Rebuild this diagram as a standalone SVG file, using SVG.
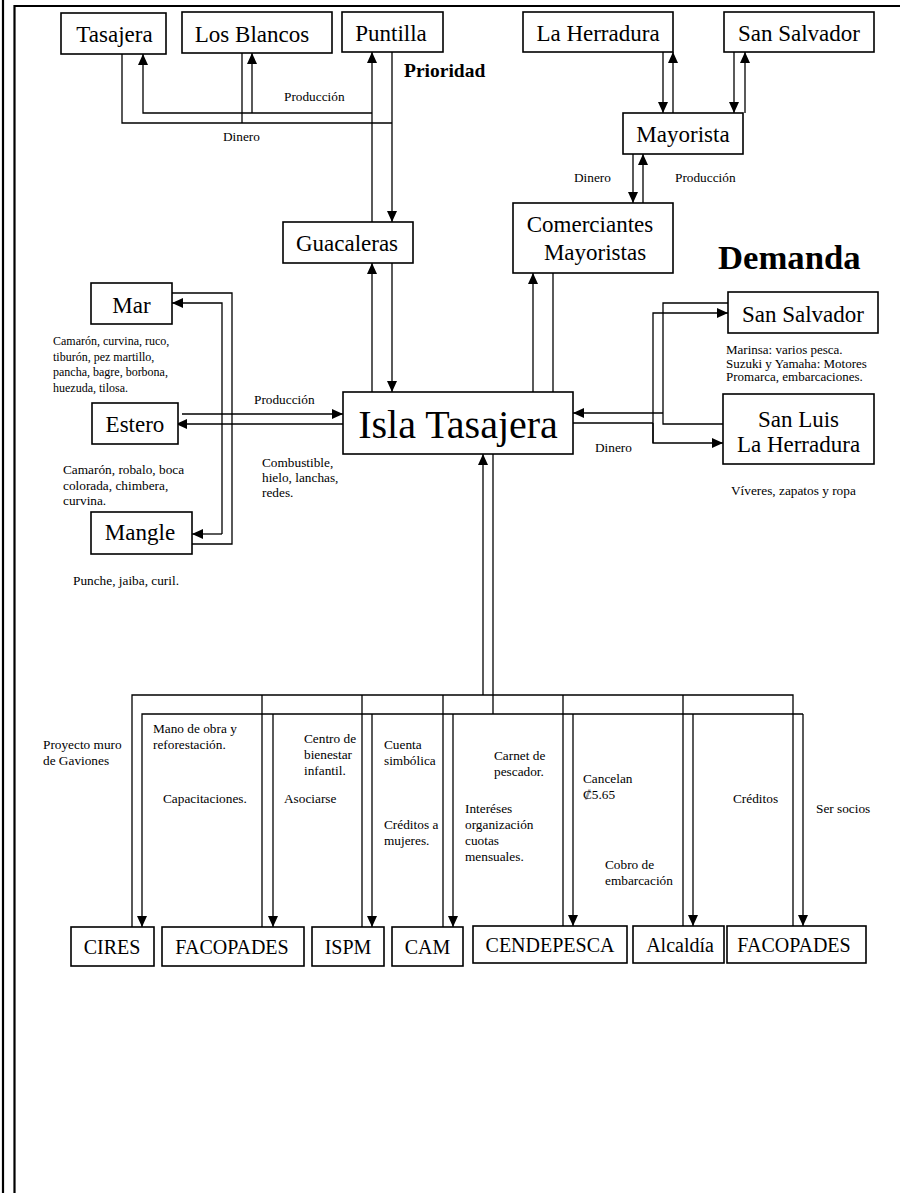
<svg xmlns="http://www.w3.org/2000/svg" width="900" height="1193" viewBox="0 0 900 1193">
<style>
.box{fill:#fff;stroke:#000;stroke-width:1.6}
.n{font-family:"Liberation Serif","Times New Roman",serif;font-size:23px;fill:#000;text-anchor:middle}
.big{font-family:"Liberation Serif","Times New Roman",serif;font-size:40px;fill:#000;text-anchor:middle}
.b{font-family:"Liberation Serif","Times New Roman",serif;font-size:20px;fill:#000;text-anchor:middle}
.s{font-family:"Liberation Serif","Times New Roman",serif;font-size:13.3px;fill:#000}
.m{font-family:"Liberation Serif","Times New Roman",serif;font-size:13px;fill:#000}
.xs{font-family:"Liberation Serif","Times New Roman",serif;font-size:12px;fill:#000}
.bold{font-family:"Liberation Serif","Times New Roman",serif;font-weight:bold;fill:#000}
.c{fill:none;stroke:#000;stroke-width:1.3}
.a{fill:none;stroke:#000;stroke-width:1.3;marker-end:url(#arr)}
.frame{fill:none;stroke:#000;stroke-width:2.2}
</style>
<defs>
<marker id="arr" markerUnits="userSpaceOnUse" markerWidth="12" markerHeight="11" refX="11" refY="5" orient="auto">
<path d="M0,0 L11,5 L0,10 z" fill="#000"/>
</marker>
</defs>
<rect width="900" height="1193" fill="#fff"/>
<g id="frame">
<path class="frame" d="M3,0 V1193"/>
<path class="frame" d="M14.5,1193 V6 H900"/>
</g>
<g id="connectors">
<path class="c" d="M122,54 V123 H392"/>
<path class="c" d="M242,53 V123"/>
<path class="a" d="M372,113 H143 V54"/>
<path class="a" d="M252,113 V53"/>
<path class="a" d="M372,222 V52"/>
<path class="a" d="M392,52 V222"/>
<path class="a" d="M372,392 V263"/>
<path class="a" d="M392,263 V392"/>
<path class="a" d="M533,403 V273"/>
<path class="a" d="M553,273 V403"/>
<path class="a" d="M633,154 V203"/>
<path class="a" d="M643,203 V154"/>
<path class="a" d="M663,52 V113"/>
<path class="a" d="M673,113 V52"/>
<path class="a" d="M734,52 V113"/>
<path class="a" d="M745,113 V52"/>
<path class="c" d="M172,293 H232 V544 H192"/>
<path class="a" d="M222,534 V303 H172"/>
<path class="a" d="M222,534 H192"/>
<path class="a" d="M182,414 H343"/>
<path class="a" d="M343,424 H176"/>
<path class="c" d="M728,303 H663 V424 H723"/>
<path class="a" d="M663,413 H573"/>
<path class="c" d="M573,423 H653"/>
<path class="a" d="M653,443 V313 H728"/>
<path class="a" d="M653,423 V443 H723"/>
<path class="a" d="M483,695 V454"/>
<path class="c" d="M493,454 V714"/>
<path class="c" d="M132,927 V695 H793 V926"/>
<path class="c" d="M262,695 V927 M362,695 V927 M443,695 V927 M563,695 V926 M683,695 V926"/>
<path class="a" d="M803,714 H142 V927"/>
<path class="a" d="M803,714 V926"/>
<path class="a" d="M273,714 V927"/>
<path class="a" d="M372,714 V927"/>
<path class="a" d="M453,714 V927"/>
<path class="a" d="M573,714 V926"/>
<path class="a" d="M693,714 V926"/>
</g>
<g id="labels">
<text class="s" x="284" y="101">Producción</text>
<text class="s" x="223" y="141">Dinero</text>
<text class="bold" x="404" y="77" font-size="19.5">Prioridad</text>
<text class="s" x="574" y="182">Dinero</text>
<text class="s" x="675" y="182">Producción</text>
<text class="bold" x="718" y="269" font-size="34.7">Demanda</text>
<text class="xs" x="53" y="345">Camarón, curvina, ruco,</text>
<text class="xs" x="53" y="360.5">tiburón, pez martillo,</text>
<text class="xs" x="53" y="376">pancha, bagre, borbona,</text>
<text class="xs" x="53" y="391.5">huezuda, tilosa.</text>
<text class="s" x="254" y="404">Producción</text>
<text class="s" x="63" y="474">Camarón, robalo, boca</text>
<text class="s" x="63" y="489.5">colorada, chimbera,</text>
<text class="s" x="63" y="505">curvina.</text>
<text class="s" x="262" y="466.5">Combustible,</text>
<text class="s" x="262" y="482">hielo, lanchas,</text>
<text class="s" x="262" y="497">redes.</text>
<text class="s" x="73" y="585">Punche, jaiba, curil.</text>
<text class="m" x="726" y="354">Marinsa: varios pesca.</text>
<text class="m" x="726" y="367.5">Suzuki y Yamaha: Motores</text>
<text class="m" x="726" y="381">Promarca, embarcaciones.</text>
<text class="s" x="595" y="452">Dinero</text>
<text class="s" x="731" y="495">Víveres, zapatos y ropa</text>
<text class="s" x="43" y="749">Proyecto muro</text>
<text class="s" x="43" y="765">de Gaviones</text>
<text class="s" x="153" y="733">Mano de obra y</text>
<text class="s" x="153" y="749">reforestación.</text>
<text class="s" x="163" y="803">Capacitaciones.</text>
<text class="s" x="284" y="803">Asociarse</text>
<text class="s" x="304" y="743">Centro de</text>
<text class="s" x="304" y="759">bienestar</text>
<text class="s" x="304" y="775">infantil.</text>
<text class="s" x="384" y="749">Cuenta</text>
<text class="s" x="384" y="765">simbólica</text>
<text class="s" x="384" y="829">Créditos a</text>
<text class="s" x="384" y="845">mujeres.</text>
<text class="s" x="494" y="760">Carnet de</text>
<text class="s" x="494" y="776">pescador.</text>
<text class="s" x="465" y="813">Interéses</text>
<text class="s" x="465" y="829">organización</text>
<text class="s" x="465" y="845">cuotas</text>
<text class="s" x="465" y="861">mensuales.</text>
<text class="s" x="583" y="783">Cancelan</text>
<text class="s" x="583" y="799">₡5.65</text>
<text class="s" x="605" y="869">Cobro de</text>
<text class="s" x="605" y="885">embarcación</text>
<text class="s" x="733" y="803">Créditos</text>
<text class="s" x="816" y="813">Ser socios</text>
</g>
<g id="n-tasajera"><rect class="box" x="61" y="13" width="105" height="41"/><text class="n" x="114.5" y="42">Tasajera</text></g>
<g id="n-losblancos"><rect class="box" x="182" y="12" width="150" height="41"/><text class="n" x="252" y="42">Los Blancos</text></g>
<g id="n-puntilla"><rect class="box" x="342" y="12" width="101" height="40"/><text class="n" x="391" y="41">Puntilla</text></g>
<g id="n-laherradura"><rect class="box" x="523" y="12" width="150" height="40"/><text class="n" x="598" y="41">La Herradura</text></g>
<g id="n-sansalvador1"><rect class="box" x="724" y="12" width="150" height="40"/><text class="n" x="799" y="41">San Salvador</text></g>
<g id="n-mayorista"><rect class="box" x="623" y="113" width="120" height="41"/><text class="n" x="683" y="142">Mayorista</text></g>
<g id="n-comerciantes"><rect class="box" x="513" y="203" width="160" height="70"/><text class="n" x="590" y="232">Comerciantes</text><text class="n" x="595" y="260">Mayoristas</text></g>
<g id="n-guacaleras"><rect class="box" x="283" y="222" width="130" height="41"/><text class="n" x="347" y="250.5">Guacaleras</text></g>
<g id="n-mar"><rect class="box" x="91" y="283" width="81" height="41"/><text class="n" x="131.5" y="312.5">Mar</text></g>
<g id="n-estero"><rect class="box" x="92" y="403" width="86" height="41"/><text class="n" x="135" y="432">Estero</text></g>
<g id="n-mangle"><rect class="box" x="91" y="512" width="101" height="42"/><text class="n" x="140" y="540">Mangle</text></g>
<g id="n-isla"><rect class="box" x="343" y="392" width="230" height="62"/><text class="big" x="458" y="437.5">Isla Tasajera</text></g>
<g id="n-sansalvador2"><rect class="box" x="728" y="292" width="150" height="41"/><text class="n" x="803" y="321.5">San Salvador</text></g>
<g id="n-sanluis"><rect class="box" x="723" y="394" width="151" height="70"/><text class="n" x="798.5" y="426.5">San Luis</text><text class="n" x="798.5" y="451.5">La Herradura</text></g>
<g id="n-cires"><rect class="box" x="71" y="927" width="83" height="39"/><text class="b" x="112" y="954">CIRES</text></g>
<g id="n-facopades1"><rect class="box" x="162" y="927" width="142" height="39"/><text class="b" x="232" y="954">FACOPADES</text></g>
<g id="n-ispm"><rect class="box" x="312" y="927" width="72" height="39"/><text class="b" x="348" y="954">ISPM</text></g>
<g id="n-cam"><rect class="box" x="392" y="927" width="71" height="39"/><text class="b" x="427.5" y="954">CAM</text></g>
<g id="n-cendepesca"><rect class="box" x="473" y="926" width="154" height="37"/><text class="b" x="550" y="952">CENDEPESCA</text></g>
<g id="n-alcaldia"><rect class="box" x="633" y="926" width="91" height="37"/><text class="b" x="680" y="952">Alcaldía</text></g>
<g id="n-facopades2"><rect class="box" x="727" y="926" width="139" height="37"/><text class="b" x="794" y="952">FACOPADES</text></g>
</svg>
